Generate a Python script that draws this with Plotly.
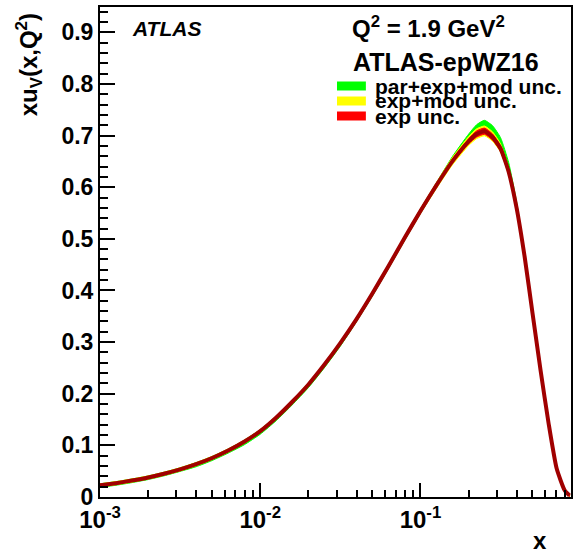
import plotly.graph_objects as go

# ---- data ----
x_vals = [0.001, 0.00126, 0.00158, 0.002, 0.00251, 0.00316, 0.00398, 0.00501, 0.00631, 0.00794,
          0.01, 0.0126, 0.0158, 0.02, 0.0251, 0.0316, 0.0398, 0.0501, 0.0631, 0.0794,
          0.1, 0.126, 0.158, 0.2, 0.224, 0.251, 0.282, 0.316, 0.355, 0.398,
          0.447, 0.501, 0.562, 0.631, 0.708, 0.794, 0.851]
xuv_central = [0.0225, 0.0268, 0.0318, 0.0378, 0.0450, 0.0535, 0.0636, 0.0756, 0.0900, 0.1070,
               0.1275, 0.1540, 0.1840, 0.2180, 0.2560, 0.2980, 0.3440, 0.3940, 0.4470, 0.5010,
               0.5540, 0.6040, 0.6500, 0.6890, 0.7030, 0.7085, 0.6970, 0.6750, 0.6300, 0.5600,
               0.4650, 0.3550, 0.2450, 0.1420, 0.0550, 0.0130, 0.0030]
# band offsets (upper / lower) from the central value
green_up = [0.003, 0.003, 0.003, 0.003, 0.003, 0.003, 0.003, 0.003, 0.003, 0.003,
            0.003, 0.003, 0.003, 0.003, 0.003, 0.003, 0.003, 0.003, 0.003, 0.003,
            0.004, 0.005, 0.009, 0.014, 0.018, 0.021, 0.022, 0.021, 0.018, 0.012,
            0.006, 0.003, 0.003, 0.003, 0.003, 0.002, 0.002]
green_dn = [0.004, 0.004, 0.004, 0.004, 0.004, 0.004, 0.005, 0.005, 0.005, 0.006,
            0.006, 0.006, 0.006, 0.006, 0.006, 0.006, 0.005, 0.005, 0.005, 0.005,
            0.005, 0.005, 0.005, 0.005, 0.005, 0.005, 0.005, 0.005, 0.004, 0.004,
            0.003, 0.003, 0.003, 0.003, 0.003, 0.002, 0.002]
yellow_up = [0.003, 0.003, 0.003, 0.003, 0.003, 0.003, 0.003, 0.003, 0.003, 0.003,
             0.003, 0.003, 0.003, 0.003, 0.003, 0.003, 0.003, 0.003, 0.003, 0.003,
             0.004, 0.005, 0.007, 0.009, 0.010, 0.010, 0.010, 0.009, 0.007, 0.005,
             0.003, 0.003, 0.003, 0.003, 0.003, 0.002, 0.002]
yellow_dn = [0.003, 0.003, 0.003, 0.003, 0.003, 0.003, 0.003, 0.003, 0.003, 0.003,
             0.003, 0.003, 0.003, 0.003, 0.003, 0.003, 0.003, 0.003, 0.004, 0.004,
             0.005, 0.006, 0.007, 0.008, 0.009, 0.009, 0.008, 0.007, 0.006, 0.004,
             0.003, 0.003, 0.003, 0.003, 0.003, 0.002, 0.002]
red_up = [0.002, 0.002, 0.002, 0.002, 0.002, 0.002, 0.002, 0.002, 0.002, 0.002,
          0.002, 0.002, 0.002, 0.002, 0.002, 0.002, 0.002, 0.002, 0.003, 0.003,
          0.003, 0.003, 0.004, 0.005, 0.006, 0.006, 0.006, 0.005, 0.004, 0.003,
          0.003, 0.002, 0.002, 0.002, 0.002, 0.002, 0.002]
red_dn = red_up

y_ticks = [0, 0.1, 0.2, 0.3, 0.4, 0.5, 0.6, 0.7, 0.8, 0.9]
y_ticklabels = ["0", "0.1", "0.2", "0.3", "0.4", "0.5", "0.6", "0.7", "0.8", "0.9"]
x_ticks = [0.001, 0.01, 0.1]
x_ticklabels = ["10<sup>-3</sup>", "10<sup>-2</sup>", "10<sup>-1</sup>"]
x_minor = [m * d for d in (0.001, 0.01, 0.1) for m in range(2, 10) if m * d < 0.87]

legend_labels = ["par+exp+mod unc.", "exp+mod unc.", "exp unc."]
band_colors = ["#00FF00", "#FFFF00", "#FF0000"]
central_color = "#A00000"

FONT = "Liberation Sans"

fig = go.Figure()


def band(up, dn, color):
    yu = [c + u for c, u in zip(xuv_central, up)]
    yd = [c - d for c, d in zip(xuv_central, dn)]
    fig.add_trace(go.Scatter(
        x=x_vals + x_vals[::-1], y=yu + yd[::-1], fill="toself", fillcolor=color,
        mode="lines", line=dict(color=color, width=1, shape="spline", smoothing=0.5),
        hoverinfo="skip", showlegend=False))


band(green_up, green_dn, band_colors[0])
band(yellow_up, yellow_dn, band_colors[1])
band(red_up, red_dn, band_colors[2])

fig.add_trace(go.Scatter(x=x_vals, y=xuv_central, mode="lines",
                         line=dict(color=central_color, width=4, shape="spline", smoothing=0.5),
                         showlegend=False))

L, R, T, B = 100, 1, 7, 60
W, H = 574, 557
PW, PH = W - L - R, H - T - B


def px(xp):
    return (xp - L) / PW


def py(yp):
    return (H - B - yp) / PH


fig.update_layout(
    width=W, height=H, margin=dict(l=L, r=R, t=T, b=B),
    paper_bgcolor="white", plot_bgcolor="white",
    font=dict(family=FONT, color="black"),
    showlegend=False,
)
fig.update_xaxes(
    type="log", range=[-3, -0.0605],
    tickvals=x_ticks, ticktext=[f"<b>{t}</b>" for t in x_ticklabels],
    ticks="inside", ticklen=14, tickwidth=1.5, tickcolor="black",
    tickfont=dict(size=24, family=FONT, color="black"),
    showline=True, linewidth=2, linecolor="black", mirror=True,
    showgrid=False, zeroline=False,
    minor=dict(tickvals=x_minor, ticks="inside", ticklen=7, tickwidth=1.5,
               tickcolor="black", showgrid=False),
)
fig.update_yaxes(
    range=[0, 0.949],
    tickvals=y_ticks, ticktext=[f"<b>{t}</b>" for t in y_ticklabels],
    ticks="inside", ticklen=15, tickwidth=1.5, tickcolor="black",
    tickfont=dict(size=23, family=FONT, color="black"),
    showline=True, linewidth=2, linecolor="black", mirror=True,
    showgrid=False, zeroline=False,
    minor=dict(dtick=0.02, ticks="inside", ticklen=8, tickwidth=1.5,
               tickcolor="black", showgrid=False),
)

ann = []
ann.append(dict(x=px(29), y=py(65), xref="paper", yref="paper", textangle=-90,
                text="<b>xu<sub>V</sub>(x,Q<sup>2</sup>)</b>", showarrow=False,
                xanchor="center", yanchor="middle", font=dict(size=24, family=FONT)))
ann.append(dict(x=px(542), y=py(556), xref="paper", yref="paper", text="<b>x</b>",
                showarrow=False, xanchor="center", yanchor="bottom",
                font=dict(size=24, family=FONT)))
ann.append(dict(x=px(130), y=py(29), xref="paper", yref="paper", text="<b><i>ATLAS</i></b>",
                showarrow=False, xanchor="left", yanchor="middle",
                font=dict(size=21, family=FONT)))
ann.append(dict(x=px(351), y=py(27), xref="paper", yref="paper",
                text="<b>Q<sup>2</sup> = 1.9 GeV<sup>2</sup></b>",
                showarrow=False, xanchor="left", yanchor="middle",
                font=dict(size=24, family=FONT)))
ann.append(dict(x=px(352), y=py(62), xref="paper", yref="paper", text="<b>ATLAS-epWZ16</b>",
                showarrow=False, xanchor="left", yanchor="middle",
                font=dict(size=25, family=FONT)))

leg_y = [86, 101, 116]
shapes = []
for lab, col, yc in zip(legend_labels, band_colors, leg_y):
    ann.append(dict(x=px(374), y=py(yc), xref="paper", yref="paper", text=f"<b>{lab}</b>",
                    showarrow=False, xanchor="left", yanchor="middle",
                    font=dict(size=21, family=FONT)))
    shapes.append(dict(type="rect", xref="paper", yref="paper",
                       x0=px(338), x1=px(367), y0=py(yc - 4.5), y1=py(yc + 4.5),
                       fillcolor=col, line=dict(width=0)))

fig.update_layout(annotations=ann, shapes=shapes)

fig.write_html("out.html")
